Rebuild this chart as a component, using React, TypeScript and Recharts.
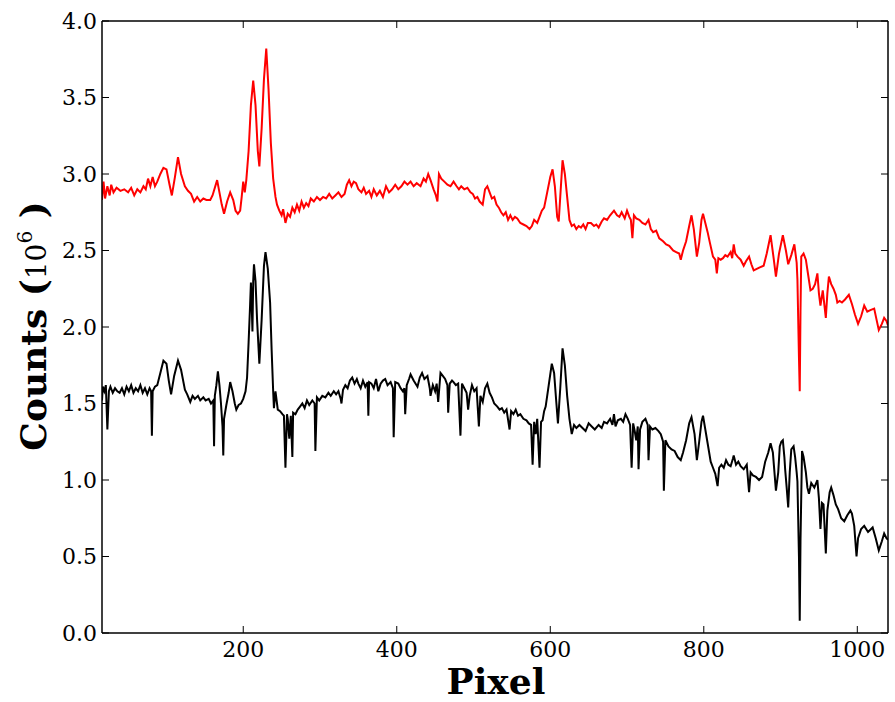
import React from 'react';
import { LineChart, Line, XAxis, YAxis } from 'recharts';

// [pixel, counts (10^6)]
const redSeries: [number, number][] = [
  [16,2.83],[18,2.95],[20,2.84],[23,2.92],[26,2.86],[28,2.93],[31,2.88],[35,2.91],[40,2.89],[45,2.90],[50,2.88],[54,2.91],[58,2.86],[62,2.90],[66,2.88],[70,2.92],[73,2.90],[76,2.97],[79,2.92],[82,2.98],[85,2.92],[88,2.95],[92,3.00],[96,3.04],[100,3.03],[104,2.93],[107,2.86],[111,2.98],[115,3.11],[119,3.00],[124,2.92],[128,2.89],[132,2.87],[136,2.82],[140,2.85],[144,2.82],[148,2.84],[152,2.83],[157,2.83],[160,2.86],[163,2.91],[166,2.96],[169,2.88],[172,2.80],[175,2.74],[179,2.82],[183,2.88],[187,2.83],[190,2.76],[193,2.74],[196,2.76],[198,2.85],[200,2.95],[202,2.88],[204,2.96],[207,3.15],[210,3.45],[213,3.61],[216,3.45],[219,3.15],[221,3.05],[224,3.30],[227,3.62],[230,3.82],[233,3.55],[236,3.20],[239,2.97],[242,2.85],[244,2.80],[247,2.76],[250,2.73],[252,2.77],[255,2.68],[258,2.74],[261,2.72],[264,2.78],[267,2.75],[270,2.80],[273,2.76],[276,2.82],[279,2.78],[282,2.81],[285,2.79],[288,2.84],[292,2.82],[296,2.85],[300,2.83],[304,2.85],[308,2.84],[312,2.87],[316,2.84],[320,2.86],[324,2.88],[328,2.85],[332,2.87],[335,2.93],[338,2.96],[341,2.92],[344,2.95],[347,2.94],[350,2.90],[354,2.88],[357,2.91],[360,2.87],[364,2.89],[367,2.85],[370,2.90],[374,2.86],[378,2.89],[382,2.85],[386,2.92],[390,2.88],[394,2.90],[398,2.93],[402,2.90],[406,2.92],[410,2.95],[414,2.93],[418,2.95],[422,2.92],[426,2.94],[431,2.92],[435,2.97],[438,2.95],[441,3.00],[444,2.96],[448,2.90],[451,2.86],[453,2.82],[455,3.00],[458,2.97],[462,2.95],[466,2.93],[470,2.92],[474,2.95],[478,2.92],[481,2.90],[484,2.92],[488,2.90],[492,2.91],[496,2.88],[499,2.87],[502,2.84],[505,2.85],[508,2.82],[512,2.80],[515,2.90],[518,2.92],[521,2.88],[524,2.84],[527,2.85],[530,2.80],[533,2.78],[536,2.75],[539,2.73],[542,2.75],[545,2.70],[548,2.73],[551,2.70],[554,2.72],[557,2.71],[561,2.68],[565,2.67],[569,2.66],[573,2.64],[576,2.66],[579,2.70],[583,2.68],[586,2.72],[589,2.76],[592,2.78],[596,2.88],[600,2.98],[603,3.03],[606,2.92],[609,2.72],[611,2.69],[613,2.85],[616,3.09],[619,3.00],[622,2.85],[625,2.70],[628,2.66],[631,2.67],[634,2.64],[637,2.66],[640,2.65],[643,2.67],[646,2.64],[649,2.68],[653,2.68],[657,2.66],[660,2.67],[663,2.65],[667,2.69],[670,2.71],[674,2.70],[678,2.73],[683,2.76],[687,2.73],[690,2.72],[693,2.75],[697,2.71],[700,2.76],[703,2.72],[705,2.70],[707,2.58],[709,2.73],[712,2.71],[716,2.70],[720,2.68],[724,2.67],[728,2.70],[731,2.64],[734,2.62],[738,2.63],[742,2.58],[747,2.56],[751,2.54],[755,2.53],[760,2.50],[764,2.49],[768,2.48],[770,2.44],[773,2.50],[777,2.56],[781,2.66],[784,2.73],[787,2.64],[791,2.46],[794,2.55],[797,2.70],[799,2.74],[802,2.68],[805,2.62],[808,2.55],[812,2.46],[815,2.44],[817,2.35],[819,2.45],[822,2.44],[825,2.45],[828,2.47],[831,2.46],[835,2.49],[837,2.45],[839,2.54],[841,2.48],[844,2.46],[848,2.44],[852,2.40],[855,2.43],[859,2.46],[862,2.41],[865,2.37],[869,2.38],[873,2.39],[878,2.40],[882,2.48],[887,2.60],[891,2.45],[894,2.33],[898,2.48],[903,2.60],[907,2.50],[910,2.41],[914,2.47],[918,2.54],[921,2.42],[922,2.31],[924,1.80],[925,1.58],[926,2.10],[927,2.46],[930,2.48],[933,2.44],[936,2.34],[939,2.24],[942,2.25],[945,2.28],[948,2.35],[950,2.22],[952,2.14],[955,2.24],[959,2.06],[961,2.22],[963,2.33],[966,2.28],[969,2.25],[972,2.21],[974,2.16],[977,2.17],[980,2.16],[984,2.18],[989,2.21],[993,2.15],[997,2.08],[1001,2.02],[1005,2.07],[1009,2.14],[1013,2.10],[1017,2.11],[1022,2.12],[1025,2.05],[1028,1.98],[1032,2.02],[1035,2.06],[1038,2.04],[1040,2.01]
];

const blackSeries: [number, number][] = [
  [16,1.52],[17,1.61],[19,1.58],[21,1.62],[23,1.33],[25,1.58],[27,1.61],[30,1.57],[33,1.60],[36,1.58],[39,1.57],[42,1.60],[45,1.56],[48,1.61],[51,1.58],[54,1.62],[57,1.57],[60,1.60],[63,1.58],[66,1.62],[69,1.57],[72,1.60],[75,1.56],[78,1.60],[80,1.58],[81,1.29],[82,1.58],[85,1.61],[88,1.62],[92,1.70],[96,1.78],[100,1.76],[103,1.65],[106,1.56],[110,1.68],[115,1.78],[119,1.72],[124,1.59],[127,1.56],[131,1.51],[134,1.55],[137,1.53],[141,1.55],[144,1.52],[148,1.54],[151,1.52],[155,1.53],[158,1.50],[161,1.52],[162,1.22],[163,1.55],[165,1.62],[167,1.71],[169,1.62],[171,1.50],[173,1.35],[174,1.16],[175,1.40],[178,1.49],[181,1.57],[183,1.64],[186,1.58],[189,1.50],[191,1.46],[194,1.49],[197,1.50],[200,1.53],[203,1.58],[205,1.67],[207,1.90],[209,2.15],[210,2.29],[211,2.15],[212,1.97],[213,2.30],[214,2.41],[216,2.30],[218,2.05],[221,1.76],[224,2.05],[227,2.40],[229,2.49],[232,2.38],[235,2.16],[237,1.85],[239,1.58],[240,1.47],[242,1.58],[245,1.46],[248,1.45],[251,1.43],[253,1.42],[255,1.08],[257,1.43],[258,1.40],[260,1.27],[262,1.42],[264,1.15],[265,1.44],[268,1.43],[271,1.46],[274,1.48],[277,1.50],[280,1.47],[283,1.52],[286,1.49],[290,1.52],[293,1.50],[294,1.19],[296,1.54],[299,1.52],[303,1.55],[307,1.54],[311,1.57],[314,1.55],[318,1.58],[321,1.56],[324,1.58],[327,1.53],[328,1.50],[330,1.59],[333,1.62],[336,1.60],[339,1.65],[342,1.67],[345,1.63],[348,1.66],[350,1.63],[353,1.60],[356,1.65],[359,1.61],[362,1.64],[363,1.42],[364,1.64],[367,1.63],[370,1.60],[373,1.66],[376,1.58],[379,1.63],[382,1.65],[385,1.66],[388,1.62],[392,1.64],[395,1.60],[396,1.28],[398,1.64],[402,1.63],[405,1.60],[408,1.58],[410,1.60],[411,1.43],[413,1.62],[416,1.66],[418,1.69],[422,1.65],[427,1.61],[430,1.67],[433,1.70],[436,1.66],[440,1.68],[443,1.60],[444,1.55],[447,1.62],[450,1.58],[452,1.63],[454,1.51],[457,1.70],[460,1.68],[463,1.66],[466,1.62],[467,1.44],[469,1.63],[472,1.65],[474,1.64],[477,1.62],[480,1.63],[483,1.29],[485,1.63],[488,1.60],[491,1.57],[493,1.46],[495,1.55],[498,1.62],[501,1.58],[504,1.60],[507,1.35],[509,1.55],[512,1.51],[515,1.60],[518,1.63],[521,1.57],[524,1.54],[527,1.50],[531,1.48],[534,1.46],[537,1.47],[540,1.44],[543,1.46],[547,1.33],[549,1.45],[552,1.43],[555,1.46],[558,1.42],[561,1.43],[565,1.40],[569,1.39],[572,1.37],[575,1.36],[577,1.10],[579,1.38],[581,1.30],[583,1.40],[586,1.08],[588,1.38],[590,1.39],[592,1.45],[594,1.48],[598,1.62],[602,1.76],[605,1.70],[608,1.50],[610,1.37],[613,1.60],[616,1.86],[619,1.75],[622,1.55],[625,1.40],[628,1.30],[631,1.36],[634,1.34],[638,1.36],[642,1.34],[646,1.32],[650,1.37],[654,1.35],[658,1.33],[663,1.36],[667,1.34],[670,1.38],[674,1.37],[678,1.40],[681,1.36],[683,1.43],[685,1.35],[688,1.39],[692,1.40],[695,1.38],[698,1.43],[701,1.40],[704,1.36],[706,1.08],[708,1.37],[710,1.32],[712,1.26],[714,1.35],[715,1.07],[717,1.33],[720,1.38],[724,1.40],[727,1.36],[728,1.13],[730,1.35],[733,1.33],[737,1.34],[741,1.32],[744,1.30],[747,1.25],[748,0.93],[750,1.26],[754,1.22],[758,1.20],[762,1.19],[766,1.15],[770,1.13],[773,1.18],[777,1.26],[781,1.37],[784,1.41],[788,1.30],[791,1.13],[794,1.25],[797,1.38],[799,1.42],[802,1.33],[805,1.24],[809,1.12],[812,1.08],[815,1.04],[818,0.96],[820,1.08],[823,1.10],[826,1.08],[829,1.13],[832,1.10],[835,1.09],[838,1.14],[839,1.16],[842,1.10],[845,1.12],[848,1.09],[852,1.07],[856,1.10],[859,0.92],[861,1.05],[864,1.03],[868,1.02],[872,1.00],[876,1.02],[880,1.12],[884,1.18],[887,1.24],[890,1.18],[894,0.93],[897,1.05],[899,1.22],[901,1.25],[903,1.26],[905,1.15],[906,1.07],[908,0.95],[910,0.82],[912,1.05],[914,1.20],[917,1.22],[919,1.15],[921,1.05],[922,0.99],[924,0.50],[925,0.08],[926,0.60],[928,1.19],[930,1.15],[933,1.05],[935,0.95],[937,0.91],[940,0.98],[944,0.95],[948,1.00],[950,0.88],[952,0.68],[954,0.85],[956,0.84],[959,0.52],[961,0.80],[964,0.92],[966,0.95],[969,0.90],[972,0.84],[975,0.81],[979,0.75],[983,0.73],[987,0.77],[991,0.80],[993,0.78],[996,0.70],[999,0.50],[1001,0.62],[1005,0.68],[1009,0.70],[1014,0.66],[1018,0.68],[1020,0.69],[1024,0.62],[1028,0.54],[1032,0.60],[1035,0.65],[1038,0.62],[1040,0.61]
];

const xTicks = [200, 400, 600, 800, 1000];
const yTicks = [0, 0.5, 1.0, 1.5, 2.0, 2.5, 3.0, 3.5, 4.0];
const xDomain: [number, number] = [16, 1040];
const yDomain: [number, number] = [0, 4];

const redData = redSeries.map(([p, c]) => ({ p, c }));
const blackData = blackSeries.map(([p, c]) => ({ p, c }));

const FONT = '"DejaVu Serif", serif';
const tickStyle = { fontFamily: FONT, fontSize: 22, fill: '#000' };
const axisLine = { stroke: '#000', strokeWidth: 1.5 };
const tickLine = { stroke: '#000', strokeWidth: 1 };

const XLabel = () => (
  <text x={496} y={694} textAnchor="middle" fontFamily={FONT} fontSize={36} fontWeight="bold" fill="#000">
    Pixel
  </text>
);

const YLabel = () => (
  <text x={0} y={0} transform="translate(46,326) rotate(-90)" textAnchor="middle" fontFamily={FONT} fontSize={36} fontWeight="bold" fill="#000">
    Counts (<tspan fontWeight="normal" fontSize={28}>10</tspan>
    <tspan fontWeight="normal" fontSize={20} dy={-14}>6</tspan>
    <tspan dy={14}> )</tspan>
  </text>
);

export default function App() {
  return (
    <div style={{ position: 'absolute', left: 0, top: 0, width: 895, height: 702, background: '#fff' }}>
      <LineChart width={895} height={702} margin={{ top: 20, right: 6, bottom: 0, left: 0 }}>
        <XAxis
          xAxisId="b"
          dataKey="p"
          type="number"
          domain={xDomain}
          ticks={xTicks}
          allowDataOverflow
          orientation="bottom"
          height={69}
          tickSize={-7}
          tickMargin={15}
          tick={tickStyle}
          axisLine={axisLine}
          tickLine={tickLine}
          label={<XLabel />}
        />
        <XAxis
          xAxisId="t"
          dataKey="p"
          type="number"
          domain={xDomain}
          ticks={xTicks}
          allowDataOverflow
          orientation="top"
          height={1}
          tickSize={-7}
          tickFormatter={() => ''}
          axisLine={axisLine}
          tickLine={tickLine}
        />
        <YAxis
          yAxisId="l"
          type="number"
          domain={yDomain}
          ticks={yTicks}
          allowDataOverflow
          orientation="left"
          width={102}
          tickSize={-7}
          tickMargin={12}
          tick={tickStyle}
          tickFormatter={(v: number) => v.toFixed(1)}
          axisLine={axisLine}
          tickLine={tickLine}
          label={<YLabel />}
        />
        <YAxis
          yAxisId="r"
          type="number"
          domain={yDomain}
          ticks={yTicks}
          allowDataOverflow
          orientation="right"
          width={1}
          tickSize={-7}
          tickFormatter={() => ''}
          axisLine={axisLine}
          tickLine={tickLine}
        />
        <Line
          xAxisId="b"
          yAxisId="l"
          data={redData}
          dataKey="c"
          type="linear"
          stroke="#ff0000"
          strokeWidth={2}
          dot={false}
          isAnimationActive={false}
        />
        <Line
          xAxisId="b"
          yAxisId="l"
          data={blackData}
          dataKey="c"
          type="linear"
          stroke="#000000"
          strokeWidth={2}
          dot={false}
          isAnimationActive={false}
        />
      </LineChart>
    </div>
  );
}
